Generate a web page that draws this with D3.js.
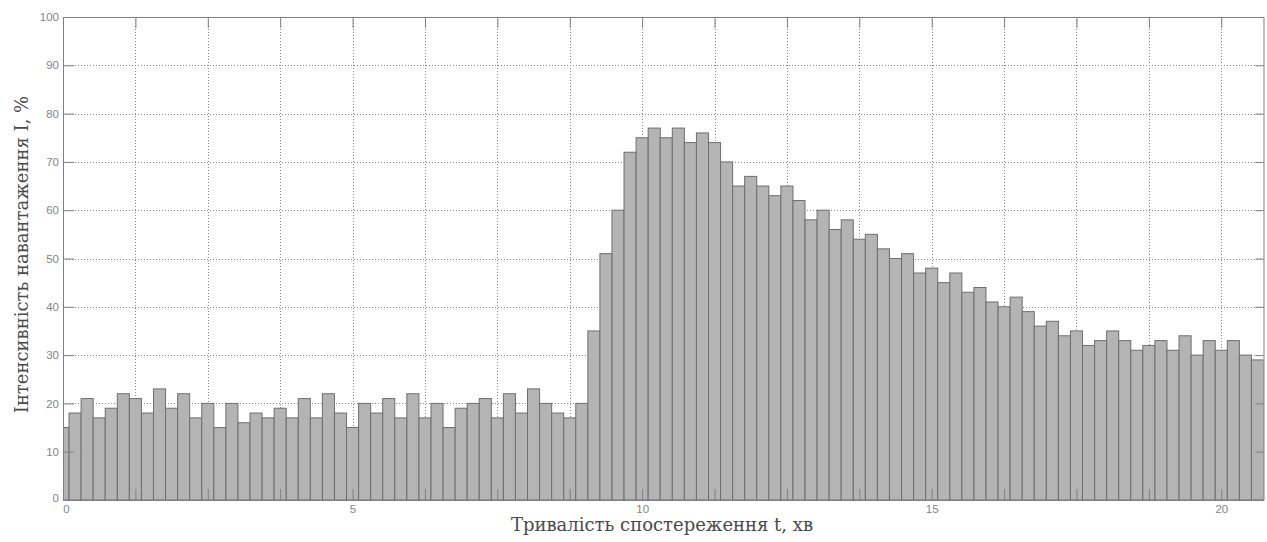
<!DOCTYPE html>
<html>
<head>
<meta charset="utf-8">
<script src="https://cdn.jsdelivr.net/npm/d3@7/dist/d3.min.js"></script>
<style>
  html, body { margin: 0; padding: 0; background: #fff; }
  svg { display: block; }
</style>
</head>
<body>
<svg id="chart" width="1267" height="542"></svg>
<script>
// ---- data ----
const binMinutes = 12.5 / 60;            // width of one observation bin, minutes
const intensity = [
  15,18,21,17,19,22,21,18,23,19,
  22,17,20,15,20,16,18,17,19,17,
  21,17,22,18,15,20,18,21,17,22,
  17,20,15,19,20,21,17,22,18,23,
  20,18,17,20,35,51,60,72,75,77,
  75,77,74,76,74,70,65,67,65,63,
  65,62,58,60,56,58,54,55,52,50,
  51,47,48,45,47,43,44,41,40,42,
  39,36,37,34,35,32,33,35,33,31,
  32,33,31,34,30,33,31,33,30,29
];
const xTicks = [0,1.25,2.5,3.75,5,6.25,7.5,8.75,10,11.25,12.5,13.75,15,16.25,17.5,18.75,20];
const xTickLabels = ["0","","","","5","","","","10","","","","15","","","","20"];
const yTicks = [0,10,20,30,40,50,60,70,80,90,100];
const xTitle = "Тривалість спостереження t, хв";
const yTitle = "Інтенсивність навантаження I, %";

// ---- layout ----
const svg = d3.select("#chart");
const L = 63, R = 1263.5, T = 17, B = 500;
const xMax = (intensity.length - 0.5) * binMinutes;
const x = d3.scaleLinear().domain([0, xMax]).range([L, R]);
const y = d3.scaleLinear().domain([0, 100]).range([B, T]);

const axisColor = "#7f7f7f";
const gridColor = "#8a8a8a";
const serifFont = "DejaVu Serif, Noto Serif, Liberation Serif, Times New Roman, serif";
const sansFont = "Liberation Sans, Arial, Helvetica, sans-serif";

// grid
const grid = svg.append("g");
grid.selectAll("line.gx").data(xTicks.filter(d => d > 0)).join("line")
  .attr("x1", d => Math.round(x(d)) + 0.5).attr("x2", d => Math.round(x(d)) + 0.5)
  .attr("y1", T).attr("y2", B)
  .attr("stroke", gridColor).attr("stroke-width", 1).attr("stroke-dasharray", "1,2");
grid.selectAll("line.gy").data(yTicks.filter(d => d > 0 && d < 100)).join("line")
  .attr("x1", L).attr("x2", R)
  .attr("y1", d => Math.round(y(d)) + 0.5).attr("y2", d => Math.round(y(d)) + 0.5)
  .attr("stroke", gridColor).attr("stroke-width", 1).attr("stroke-dasharray", "1,2");

// bars
svg.append("clipPath").attr("id", "plotclip")
  .append("rect").attr("x", L).attr("y", T).attr("width", R - L).attr("height", B - T + 1);
svg.append("g").attr("clip-path", "url(#plotclip)")
  .selectAll("rect").data(intensity).join("rect")
  .attr("x", (d, i) => x((i - 0.5) * binMinutes))
  .attr("width", (d, i) => x((i + 0.5) * binMinutes) - x((i - 0.5) * binMinutes))
  .attr("y", d => y(d))
  .attr("height", d => y(0) - y(d))
  .attr("fill", "#b4b4b4")
  .attr("stroke", "#6e6e6e")
  .attr("stroke-width", 1);

// axes box and ticks via d3 axes
const tickLen = 11;
const xAxisB = d3.axisBottom(x).tickValues(xTicks).tickFormat((d, i) => xTickLabels[i])
  .tickSizeInner(-tickLen).tickSizeOuter(0).tickPadding(5);
const xAxisT = d3.axisTop(x).tickValues(xTicks).tickFormat("")
  .tickSizeInner(-tickLen).tickSizeOuter(0);
const yAxisL = d3.axisLeft(y).tickValues(yTicks).tickFormat(d3.format("d"))
  .tickSizeInner(-tickLen).tickSizeOuter(0).tickPadding(4);
const yAxisR = d3.axisRight(y).tickValues(yTicks).tickFormat("")
  .tickSizeInner(-8).tickSizeOuter(0);

function style(g) {
  g.attr("font-family", sansFont).attr("font-size", "11.5px");
  g.selectAll("path").attr("stroke", axisColor);
  g.selectAll("line").attr("stroke", axisColor);
  g.selectAll("text").attr("fill", "#858585");
}
svg.append("g").attr("transform", `translate(0,${B})`).call(xAxisB).call(style)
  .selectAll("text").attr("dy", "0.71em").attr("dx", d => d === 0 ? 3 : 0);
svg.append("g").attr("transform", `translate(0,${T})`).call(xAxisT).call(style);
svg.append("g").attr("transform", `translate(${L},0)`).call(yAxisL).call(style)
  .selectAll("text").attr("dy", d => d === 0 ? "0.1em" : "0.32em");
svg.append("g").attr("transform", `translate(${R},0)`).call(yAxisR).call(style);

// titles
svg.append("text")
  .attr("x", 662).attr("y", 531)
  .attr("text-anchor", "middle")
  .attr("fill", "#4a4a4a")
  .attr("font-family", serifFont)
  .attr("font-size", "18px")
  .text(xTitle);
svg.append("text")
  .attr("transform", `translate(28,${(T + B) / 2 - 4}) rotate(-90)`)
  .attr("text-anchor", "middle")
  .attr("fill", "#4a4a4a")
  .attr("font-family", serifFont)
  .attr("font-size", "18px")
  .text(yTitle);
</script>
</body>
</html>
